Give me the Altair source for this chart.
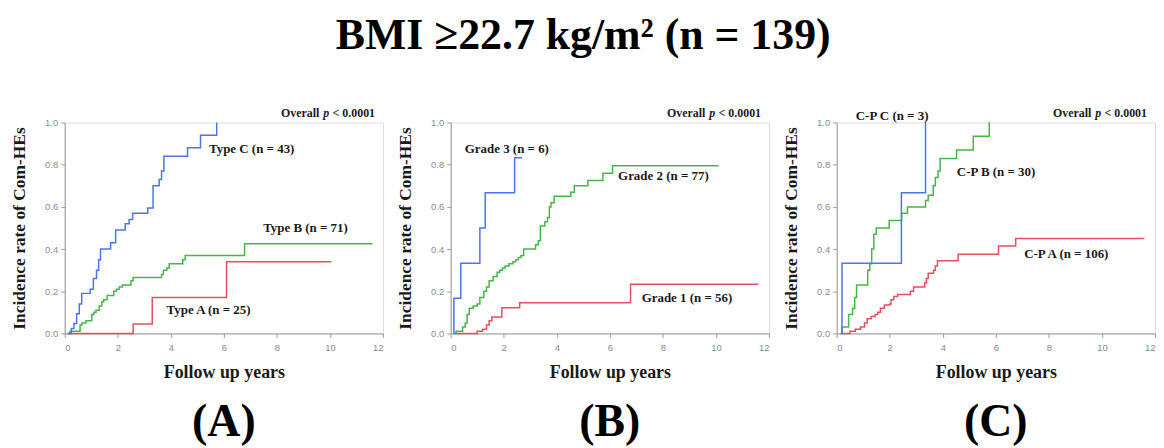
import altair as alt
import pandas as pd

# ---------------- data ----------------
# Panel A
typeC_x = [0.13, 0.25, 0.35, 0.45, 0.55, 0.64, 0.96, 1.08, 1.2, 1.28, 1.35, 1.73, 1.92, 2.28, 2.43, 2.56, 3.13, 3.33, 3.56, 3.65, 3.74, 4.63, 5.12, 5.73]
typeC_y = [0, 0.023, 0.047, 0.093, 0.14, 0.19, 0.21, 0.26, 0.30, 0.35, 0.40, 0.43, 0.49, 0.52, 0.54, 0.57, 0.595, 0.70, 0.73, 0.77, 0.84, 0.88, 0.94, 1.0]
typeB_x = [0.13, 0.2, 0.58, 0.65, 0.8, 1.02, 1.1, 1.18, 1.3, 1.4, 1.47, 1.6, 1.85, 1.95, 2.05, 2.17, 2.5, 2.58, 3.65, 3.72, 3.85, 3.94, 4.45, 4.54, 6.78, 11.6]
typeB_y = [0, 0.01, 0.04, 0.05, 0.06, 0.09, 0.10, 0.11, 0.13, 0.15, 0.16, 0.18, 0.20, 0.21, 0.22, 0.23, 0.25, 0.265, 0.28, 0.30, 0.31, 0.33, 0.35, 0.37, 0.425, 0.425]
typeA_x = [0.1, 2.58, 3.3, 6.1, 10.05]
typeA_y = [0, 0.045, 0.17, 0.34, 0.34]

# Panel B
grade3_x = [0.1, 0.12, 0.38, 1.1, 1.3, 2.41, 2.69]
grade3_y = [0, 0.167, 0.333, 0.5, 0.667, 0.833, 0.833]
grade2_x = [0.15, 0.2, 0.45, 0.55, 0.62, 0.7, 0.85, 1.0, 1.1, 1.25, 1.35, 1.45, 1.6, 1.75, 1.85, 1.95, 2.05, 2.2, 2.35, 2.45,
            2.55, 2.65, 2.75, 3.2, 3.3, 3.38, 3.55, 3.65, 3.72, 3.78, 3.9, 4.53, 4.66, 5.17, 5.74, 6.1, 10.1]
grade2_y = [0, 0.01, 0.03, 0.05, 0.09, 0.12, 0.13, 0.14, 0.17, 0.2, 0.22, 0.25, 0.27, 0.29, 0.3, 0.31, 0.32, 0.33, 0.34, 0.35,
            0.36, 0.37, 0.4, 0.42, 0.44, 0.51, 0.53, 0.55, 0.6, 0.62, 0.65, 0.67, 0.70, 0.725, 0.76, 0.795, 0.795]
grade1_x = [0.15, 1.0, 1.2, 1.35, 1.45, 1.55, 1.93, 2.6, 6.78, 11.6]
grade1_y = [0, 0.01, 0.02, 0.04, 0.06, 0.078, 0.122, 0.146, 0.233, 0.233]

# Panel C
cpC_x = [0.19, 0.2, 2.44, 3.35, 3.36]
cpC_y = [0, 0.333, 0.667, 1.0, 1.0]
cpB_x = [0.15, 0.2, 0.45, 0.6, 0.68, 0.75, 1.17, 1.25, 1.32, 1.4, 1.49, 1.98, 2.45, 2.67, 3.35, 3.45, 3.64, 3.72, 3.82, 3.9, 4.52, 5.15, 5.75, 5.76]
cpB_y = [0, 0.03, 0.09, 0.12, 0.17, 0.23, 0.30, 0.33, 0.40, 0.47, 0.50, 0.535, 0.57, 0.60, 0.63, 0.655, 0.70, 0.74, 0.77, 0.83, 0.87, 0.935, 1.0, 1.0]
cpA_x = [0.15, 0.5, 0.7, 0.9, 1.05, 1.15, 1.3, 1.45, 1.55, 1.65, 1.8, 2.0, 2.05, 2.15, 2.3, 2.78, 2.9, 3.32, 3.38, 3.45,
         3.65, 3.72, 3.8, 4.58, 6.1, 6.75, 11.6]
cpA_y = [0, 0.01, 0.02, 0.03, 0.05, 0.07, 0.08, 0.09, 0.10, 0.12, 0.135, 0.14, 0.16, 0.175, 0.185, 0.20, 0.22, 0.24, 0.26, 0.285,
         0.30, 0.32, 0.345, 0.375, 0.415, 0.45, 0.45]

# labels: text, x, y
labelsA = [("Type C (n = 43)", 5.44, 0.873), ("Type B (n = 71)", 7.48, 0.50), ("Type A (n = 25)", 3.84, 0.112)]
labelsB = [("Grade 3 (n = 6)", 0.53, 0.876), ("Grade 2 (n = 77)", 6.31, 0.747), ("Grade 1 (n = 56)", 7.2, 0.168)]
labelsC = [("C-P C (n = 3)", 0.72, 1.033), ("C-P B (n = 30)", 4.53, 0.766), ("C-P A (n = 106)", 7.07, 0.378)]

group_names = ["Type A", "Type B", "Type C", "Grade 1", "Grade 2", "Grade 3", "C-P A", "C-P B", "C-P C"]
RED, GREEN, BLUE = "#e4505f", "#45b649", "#4f74e8"
group_colors = [RED, GREEN, BLUE, RED, GREEN, BLUE, RED, GREEN, BLUE]

x_ticks = list(range(0, 13))
y_ticks = [round(i / 10, 1) for i in range(0, 11)]

title_text = "BMI \u226522.7 kg/m\u00b2 (n = 139)"

# ---------------- chart ----------------
W, H = 320, 212
SERIF = "Liberation Serif"


def series_df(name, xs, ys):
    return pd.DataFrame({"group": name, "x": xs, "y": ys, "i": range(len(xs))})


def panel(series, labels, letter):
    df = pd.concat([series_df(n, xs, ys) for n, xs, ys in series], ignore_index=True)
    lab = pd.DataFrame(labels, columns=["text", "x", "y"])

    x_enc = alt.X("x:Q", scale=alt.Scale(domain=[0, 12], nice=False),
                  axis=alt.Axis(values=x_ticks, labelExpr="datum.value % 2 == 0 ? datum.label : ''",
                                grid=False, tickSize=4, domainColor="#9a9a9a", tickColor="#9a9a9a",
                                labelColor="#8a8a8a", labelFont="Liberation Sans", labelFontSize=9.5,
                                labelPadding=5, title="Follow up years", titleFont=SERIF, titleFontSize=18,
                                titleFontWeight="bold", titleColor="#1a1a1a", titlePadding=12))
    y_enc = alt.Y("y:Q", scale=alt.Scale(domain=[0, 1], nice=False),
                  axis=alt.Axis(values=y_ticks,
                                labelExpr="round(datum.value*10) % 2 == 0 ? format(datum.value, '.1f') : ''",
                                grid=False, tickSize=4, domainColor="#9a9a9a", tickColor="#9a9a9a",
                                labelColor="#8a8a8a", labelFont="Liberation Sans", labelFontSize=9.5,
                                labelPadding=3, title="Incidence rate of Com-HEs", titleFont=SERIF,
                                titleFontSize=17.5, titleFontWeight="bold", titleColor="#1a1a1a", titlePadding=16))

    lines = alt.Chart(df).mark_line(interpolate="step-after", strokeWidth=1.5).encode(
        x=x_enc, y=y_enc,
        color=alt.Color("group:N", scale=alt.Scale(domain=group_names, range=group_colors), legend=None),
        order=alt.Order("i:Q"),
    )
    texts = alt.Chart(lab).mark_text(align="left", baseline="middle", font=SERIF, fontWeight="bold",
                                     fontSize=13, color="#1a1a1a").encode(
        x=alt.X("x:Q"), y=alt.Y("y:Q"), text="text:N")

    one = pd.DataFrame({"a": [0]})
    p1 = alt.Chart(one).mark_text(align="right", baseline="middle", font=SERIF, fontWeight="bold",
                                  fontSize=12, color="#1a1a1a", text="< 0.0001").encode(
        x=alt.value(W - 8), y=alt.value(-10))
    p2 = alt.Chart(one).mark_text(align="right", baseline="middle", font=SERIF, fontWeight="bold",
                                  fontStyle="italic", fontSize=12, color="#1a1a1a", text="p").encode(
        x=alt.value(W - 8 - 46), y=alt.value(-10))
    p3 = alt.Chart(one).mark_text(align="right", baseline="middle", font=SERIF, fontWeight="bold",
                                  fontSize=12, color="#1a1a1a", text="Overall").encode(
        x=alt.value(W - 8 - 56), y=alt.value(-10))

    return alt.layer(lines, texts, p1, p2, p3).properties(
        width=W, height=H,
        title=alt.TitleParams(letter, orient="bottom", font=SERIF, fontSize=46, fontWeight="bold",
                              color="#000000", offset=19, anchor="middle"),
    )


pA = panel([("Type A", typeA_x, typeA_y), ("Type B", typeB_x, typeB_y), ("Type C", typeC_x, typeC_y)], labelsA, "(A)")
pB = panel([("Grade 1", grade1_x, grade1_y), ("Grade 2", grade2_x, grade2_y), ("Grade 3", grade3_x, grade3_y)], labelsB, "(B)")
pC = panel([("C-P A", cpA_x, cpA_y), ("C-P B", cpB_x, cpB_y), ("C-P C", cpC_x, cpC_y)], labelsC, "(C)")

chart = alt.hconcat(pA, pB, pC, spacing=12).properties(
    title=alt.TitleParams(title_text, font=SERIF, fontSize=44, fontWeight="bold", color="#000000",
                          anchor="middle", offset=48),
    padding={"left": 2, "top": 5, "right": 0, "bottom": 0},
).configure_view(stroke="#cfcfcf", strokeWidth=1).configure(background="white")

chart.save("out.html", embed_options={"renderer": "svg", "actions": False})
